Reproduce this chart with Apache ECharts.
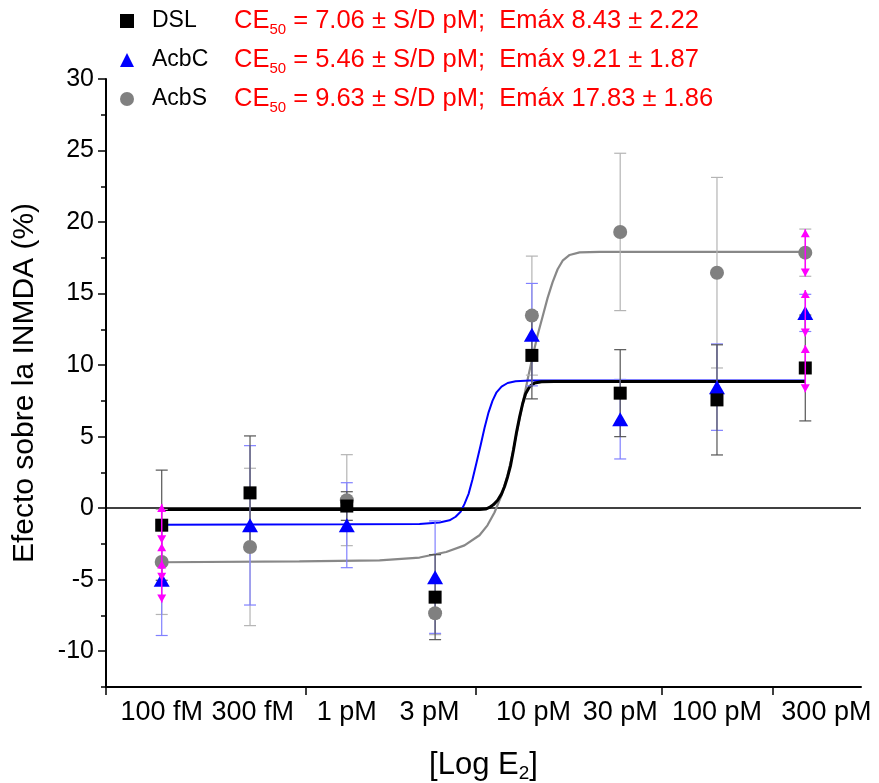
<!DOCTYPE html>
<html><head><meta charset="utf-8">
<script src="https://cdn.jsdelivr.net/npm/echarts@6/dist/echarts.min.js"></script>
<style>html,body{margin:0;padding:0;background:#fff}#c{width:879px;height:783px}</style>
</head><body><div id="c"></div>
<script>
// ---------- data ----------
const seriesNames = ['DSL', 'AcbC', 'AcbS'];
const ec50Values = ['7.06', '5.46', '9.63'];
const emaxMean = ['8.43', '9.21', '17.83'];
const emaxErr = ['2.22', '1.87', '1.86'];

const concLabels = ['100 fM', '300 fM', '1 pM', '3 pM', '10 pM', '30 pM', '100 pM', '300 pM'];
const concPM = [0.1, 0.3, 1, 3, 10, 30, 100, 300];
const labelPosPM = [0.1, 0.31, 1, 2.8, 10.2, 30, 100, 390];
const tickConcPM = [0.05, 0.6, 5, 50, 200];
const axisConcRange = [0.05, 600];
const yTicks = [-10, -5, 0, 5, 10, 15, 20, 25, 30];
const yMinorTicks = [-12.5, -7.5, -2.5, 2.5, 7.5, 12.5, 17.5, 22.5, 27.5];
const yRange = [-12.5, 30];

const dslMean  = [-1.19, 1.07, 0.15, -6.22, 10.68, 8.04, 7.57, 9.80];
const dslErr   = [3.85, 3.98, 1.00, 2.97, 3.04, 3.04, 3.85, 3.70];
const acbcMean = [-5.00, -1.20, -1.19, -4.82, 12.13, 6.22, 8.46, 13.65];
const acbcErr  = [3.90, 5.57, 2.97, 3.93, 3.58, 2.78, 3.02, 1.30];
const acbsMean = [-3.76, -2.71, 0.56, -7.34, 13.46, 19.31, 16.46, 17.86];
const acbsErr  = [3.67, 5.50, 3.18, 1.50, 4.16, 5.50, 6.66, 1.65];

// magenta arrow-capped bars
const arrowConcPM = [0.1, 0.1, 0.1, 300, 300, 300];
const arrowLow  = [-2.45, -5.07, -6.60, 8.10, 12.00, 16.20];
const arrowHigh = [0.30, -2.45, -3.65, 11.40, 15.25, 19.50];

// fitted curves: [log10(pM), value]
const dslCurveLog = [[-1, -0.1], [0, -0.1], [0.5, -0.1], [0.717, -0.1], [0.750, -0.06], [0.771, 0.05], [0.793, 0.25], [0.815, 0.55], [0.836, 1.0], [0.852, 1.5], [0.869, 2.2], [0.885, 3.0], [0.901, 4.1], [0.917, 5.3], [0.934, 6.4], [0.950, 7.3], [0.966, 8.0], [0.988, 8.5], [1.015, 8.75], [1.052, 8.84], [1.122, 8.86], [2.477, 8.86]];
const acbcCurveLog = [[-1, -1.15], [0, -1.13], [0.393, -1.10], [0.501, -1.0], [0.555, -0.85], [0.588, -0.6], [0.615, -0.25], [0.636, 0.3], [0.658, 1.0], [0.679, 2.0], [0.701, 3.2], [0.723, 4.4], [0.744, 5.6], [0.766, 6.7], [0.787, 7.5], [0.809, 8.1], [0.836, 8.5], [0.869, 8.75], [0.912, 8.87], [0.988, 8.93], [2.477, 8.93]];
const acbsCurveLog = [[-1, -3.78], [-0.256, -3.72], [0.177, -3.65], [0.393, -3.45], [0.537, -3.06], [0.636, -2.6], [0.717, -1.89], [0.760, -1.2], [0.798, -0.3], [0.836, 0.9], [0.869, 2.3], [0.897, 3.9], [0.923, 5.6], [0.950, 7.3], [0.977, 9.0], [1.004, 10.6], [1.031, 12.1], [1.058, 13.4], [1.085, 14.7], [1.112, 15.8], [1.139, 16.7], [1.166, 17.3], [1.204, 17.7], [1.258, 17.88], [1.366, 17.92], [2.477, 17.92]];

// ---------- chart ----------
const FONT = '"Liberation Sans", Arial, sans-serif';
const lg = v => Math.log10(v);
const labelPos = labelPosPM.map(lg);

function errData(mean, err) {
  return concPM.map((c, i) => [lg(c), mean[i] - err[i], mean[i] + err[i]]);
}
function errRender(color) {
  return function (params, api) {
    const x = api.value(0);
    const pLo = api.coord([x, api.value(1)]);
    const pHi = api.coord([x, api.value(2)]);
    const hw = 6;
    const style = { stroke: color, lineWidth: 1.2, fill: null };
    return { type: 'group', children: [
      { type: 'line', shape: { x1: pLo[0], y1: pLo[1], x2: pHi[0], y2: pHi[1] }, style },
      { type: 'line', shape: { x1: pLo[0] - hw, y1: pLo[1], x2: pLo[0] + hw, y2: pLo[1] }, style },
      { type: 'line', shape: { x1: pHi[0] - hw, y1: pHi[1], x2: pHi[0] + hw, y2: pHi[1] }, style }
    ] };
  };
}
function arrowRender(params, api) {
  const x = api.value(0);
  const pLo = api.coord([x, api.value(1)]);
  const pHi = api.coord([x, api.value(2)]);
  const hw = 4.5, len = 8, col = '#ff00ff';
  return { type: 'group', children: [
    { type: 'line', shape: { x1: pLo[0], y1: pLo[1], x2: pHi[0], y2: pHi[1] }, style: { stroke: col, lineWidth: 1.5 } },
    { type: 'polygon', shape: { points: [[pHi[0], pHi[1]], [pHi[0] - hw, pHi[1] + len], [pHi[0] + hw, pHi[1] + len]] }, style: { fill: col } },
    { type: 'polygon', shape: { points: [[pLo[0], pLo[1]], [pLo[0] - hw, pLo[1] - len], [pLo[0] + hw, pLo[1] - len]] }, style: { fill: col } }
  ] };
}
function pts(mean) { return concPM.map((c, i) => [lg(c), mean[i]]); }

const chart = echarts.init(document.getElementById('c'), null, { renderer: 'canvas' });
chart.setOption({
  animation: false,
  backgroundColor: '#fff',
  textStyle: { fontFamily: FONT },
  grid: { left: 106, right: 18, top: 79, bottom: 96, containLabel: false, outerBoundsMode: 'none' },
  legend: {
    data: seriesNames,
    orient: 'vertical', left: 120, top: 8, padding: 0,
    itemWidth: 14, itemHeight: 14, itemGap: 10,
    selectedMode: false,
    formatter: function (name) {
      const i = seriesNames.indexOf(name);
      return '{n|' + name + '}{r|CE}{s|50}{r| = ' + ec50Values[i] + ' \u00B1 S/D pM;  Em\u00E1x ' + emaxMean[i] + ' \u00B1 ' + emaxErr[i] + '}';
    },
    textStyle: {
      fontFamily: FONT,
      rich: {
        n: { fontSize: 23, color: '#000', width: 82, padding: [0, 0, 0, 13], lineHeight: 32, fontFamily: FONT },
        r: { fontSize: 25.5, color: '#ff0000', lineHeight: 32, fontFamily: FONT },
        s: { fontSize: 15, color: '#ff0000', lineHeight: 16, verticalAlign: 'bottom', fontFamily: FONT }
      }
    }
  },
  xAxis: {
    type: 'value',
    min: lg(axisConcRange[0]), max: lg(axisConcRange[1]),
    axisLine: { onZero: false, lineStyle: { color: '#000', width: 2 } },
    axisTick: { show: true, customValues: tickConcPM.map(lg), length: 8, lineStyle: { color: '#000', width: 1.5 } },
    axisLabel: {
      customValues: labelPos, margin: 12, fontSize: 27, color: '#000', fontFamily: FONT,
      formatter: function (v) {
        const i = labelPos.findIndex(p => Math.abs(p - v) < 1e-6);
        return i >= 0 ? concLabels[i] : '';
      }
    },
    splitLine: { show: false },
    name: '{m|[Log E}{sub|2}{m|]}',
    nameLocation: 'middle', nameGap: 60,
    nameTextStyle: {
      rich: {
        m: { fontSize: 31, color: '#000', lineHeight: 36, fontFamily: FONT },
        sub: { fontSize: 19, color: '#000', lineHeight: 18, verticalAlign: 'bottom', fontFamily: FONT }
      }
    }
  },
  yAxis: [{
    type: 'value', min: yRange[0], max: yRange[1],
    axisLine: { show: true, onZero: false, lineStyle: { color: '#000', width: 2 } },
    axisTick: { show: true, customValues: yTicks, length: 8, lineStyle: { color: '#000', width: 1.5 } },
    axisLabel: { customValues: yTicks, margin: 12, fontSize: 25, color: '#000', fontFamily: FONT },
    splitLine: { show: false },
    name: 'Efecto sobre la INMDA (%)',
    nameLocation: 'middle', nameGap: 66,
    nameTextStyle: { fontSize: 30, color: '#000', fontFamily: FONT }
  }, {
    type: 'value', min: yRange[0], max: yRange[1], position: 'left',
    axisLine: { show: false, onZero: false },
    axisTick: { show: true, customValues: yMinorTicks, length: 5, lineStyle: { color: '#000', width: 1.5 } },
    axisLabel: { show: false },
    splitLine: { show: false }
  }],
  series: [
    { type: 'line', name: 'AcbS ajuste', data: acbsCurveLog, showSymbol: false, smooth: false,
      lineStyle: { color: '#888888', width: 2.2 }, z: 2, silent: true,
      markLine: { silent: true, symbol: 'none', label: { show: false }, data: [{ yAxis: 0 }],
        lineStyle: { color: '#000', width: 1.6, type: 'solid' }, z: 1 } },
    { type: 'line', name: 'AcbC ajuste', data: acbcCurveLog, showSymbol: false, smooth: false,
      lineStyle: { color: '#0000ff', width: 2 }, z: 3, silent: true },
    { type: 'line', name: 'DSL ajuste', data: dslCurveLog, showSymbol: false, smooth: false,
      lineStyle: { color: '#000', width: 3 }, z: 3, silent: true },
    { type: 'custom', name: 'AcbS err', data: errData(acbsMean, acbsErr), renderItem: errRender('#b4b4b4'), encode: { x: 0, y: [1, 2] }, z: 4, silent: true },
    { type: 'custom', name: 'AcbC err', data: errData(acbcMean, acbcErr), renderItem: errRender('#8080ff'), encode: { x: 0, y: [1, 2] }, z: 4, silent: true },
    { type: 'custom', name: 'DSL err', data: errData(dslMean, dslErr), renderItem: errRender('#555555'), encode: { x: 0, y: [1, 2] }, z: 4, silent: true },
    { type: 'scatter', name: 'AcbS', data: pts(acbsMean), symbol: 'circle', symbolSize: 14, itemStyle: { color: '#808080', opacity: 1 }, z: 5 },
    { type: 'scatter', name: 'AcbC', data: pts(acbcMean), symbol: 'triangle', symbolSize: [16, 14], itemStyle: { color: '#0000ff', opacity: 1 }, z: 5 },
    { type: 'scatter', name: 'DSL', data: pts(dslMean), symbol: 'rect', symbolSize: 13, itemStyle: { color: '#000', opacity: 1 }, z: 5 },
    { type: 'custom', name: 'flechas', data: arrowConcPM.map((c, i) => [lg(c), arrowLow[i], arrowHigh[i]]), renderItem: arrowRender, encode: { x: 0, y: [1, 2] }, z: 6, silent: true }
  ]
});
</script>
</body></html>
